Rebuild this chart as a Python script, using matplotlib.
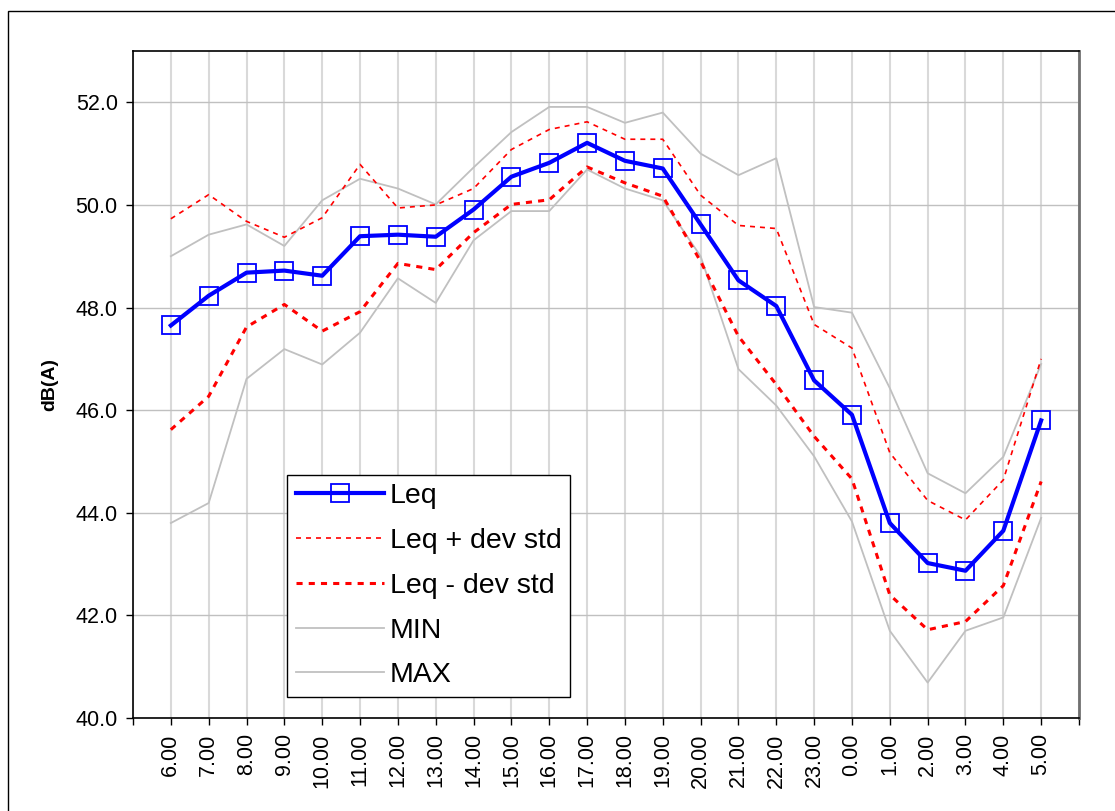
import numpy as np
import matplotlib
matplotlib.use('Agg')
import matplotlib.pyplot as plt
from matplotlib.patches import Rectangle

plt.rcParams['font.family'] = ['Liberation Sans', 'DejaVu Sans']

# data #
hours = ['6.00', '7.00', '8.00', '9.00', '10.00', '11.00', '12.00', '13.00',
         '14.00', '15.00', '16.00', '17.00', '18.00', '19.00', '20.00', '21.00',
         '22.00', '23.00', '0.00', '1.00', '2.00', '3.00', '4.00', '5.00']
leq = [47.65, 48.23, 48.68, 48.72, 48.62, 49.39, 49.42, 49.38,
       49.91, 50.55, 50.82, 51.21, 50.86, 50.71, 49.62, 48.53,
       48.03, 46.58, 45.91, 43.80, 43.02, 42.87, 43.65, 45.80]
leq_plus = [49.73, 50.20, 49.68, 49.37, 49.75, 50.79, 49.94, 50.00,
            50.32, 51.08, 51.47, 51.62, 51.28, 51.28, 50.19, 49.60,
            49.54, 47.67, 47.21, 45.17, 44.24, 43.86, 44.64, 47.00]
leq_minus = [45.62, 46.27, 47.62, 48.06, 47.54, 47.92, 48.86, 48.74,
             49.46, 50.01, 50.10, 50.74, 50.43, 50.17, 48.90, 47.44,
             46.50, 45.49, 44.66, 42.40, 41.72, 41.88, 42.58, 44.61]
lmin = [43.80, 44.19, 46.61, 47.19, 46.89, 47.51, 48.57, 48.09,
        49.31, 49.88, 49.88, 50.69, 50.32, 50.09, 49.00, 46.80,
        46.09, 45.10, 43.83, 41.70, 40.69, 41.70, 41.96, 43.90]
lmax = [49.00, 49.42, 49.62, 49.20, 50.09, 50.51, 50.32, 50.01,
        50.73, 51.42, 51.91, 51.91, 51.60, 51.80, 51.00, 50.58,
        50.91, 48.01, 47.90, 46.43, 44.77, 44.38, 45.09, 46.90]

W, H = 1115, 811
fig = plt.figure(figsize=(W/100, H/100), dpi=100)
# outer chart frame, runs off the right and bottom edges #
fig.patches.append(Rectangle((8/W, -0.5), 2, 1.5 - 11/H, transform=fig.transFigure,
                             fill=False, edgecolor='black', lw=1.0))

ax = fig.add_axes([133/W, 1 - 718/H, (1079-133)/W, (718-51)/H])
x = np.arange(len(hours))

ax.plot(x, lmin, color='#c0c0c0', lw=1.3, label='MIN', zorder=2)
ax.plot(x, lmax, color='#c0c0c0', lw=1.3, label='MAX', zorder=2)
ax.plot(x, leq_plus, color='red', lw=1.2, dashes=(3, 3), label='Leq + dev std', zorder=3)
ax.plot(x, leq_minus, color='red', lw=2.2, dashes=(2, 2), label='Leq - dev std', zorder=3)
ax.plot(x, leq, color='#0000ff', lw=3.0, marker='s', markersize=12.5,
        markerfacecolor='none', markeredgecolor='#0000ff', markeredgewidth=1.3,
        label='Leq', zorder=4)

ax.set_xlim(-1, len(hours))
ax.set_ylim(40, 53)
ax.set_yticks(np.arange(40, 53, 2))
ax.set_yticklabels(['%.1f' % v for v in np.arange(40, 53, 2)], fontsize=15.5)
ax.set_xticks(np.arange(-1, len(hours) + 1))
ax.set_xticklabels([''] + hours + [''], rotation=90, fontsize=15.5)
ax.tick_params(axis='both', direction='out', length=5, width=1, pad=6)

ax.yaxis.grid(True, color='#c0c0c0', lw=1.0)
ax.xaxis.grid(True, color='#d9d9d9', lw=1.5)
ax.set_axisbelow(True)

for s in ['left', 'bottom', 'top']:
    ax.spines[s].set_color('black')
    ax.spines[s].set_linewidth(1.2)
ax.spines['right'].set_color('#707070')
ax.spines['right'].set_linewidth(2.0)

ax.set_ylabel('dB(A)', fontsize=14, fontweight='bold')
ax.yaxis.set_label_coords(-75/946, 0.5)

h, l = ax.get_legend_handles_labels()
order = [4, 2, 3, 0, 1]
leg = ax.legend([h[i] for i in order], [l[i] for i in order],
                loc='lower left', bbox_to_anchor=(154/946, 21/667),
                borderaxespad=0, fontsize=20.5, handlelength=3.1,
                handletextpad=0.22, labelspacing=0.66, borderpad=0.3,
                fancybox=False, framealpha=1, edgecolor='black')
leg.get_frame().set_linewidth(1.0)

fig.savefig('out.png', dpi=100)
